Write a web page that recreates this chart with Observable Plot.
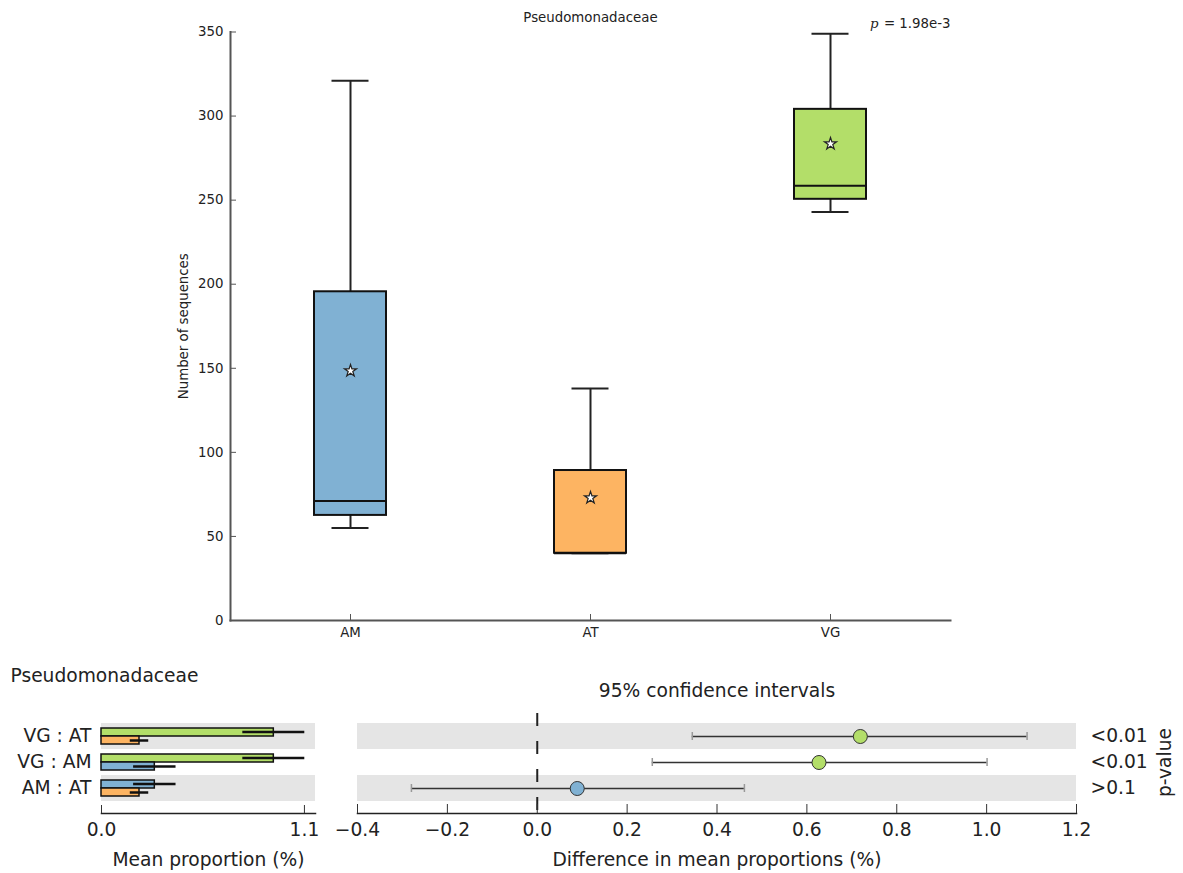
<!DOCTYPE html>
<html>
<head>
<meta charset="utf-8">
<script src="https://cdn.jsdelivr.net/npm/d3@7"></script>
<script src="https://cdn.jsdelivr.net/npm/@observablehq/plot@0.6"></script>
<style>
  body { margin: 0; background: #fff; }
  #chart { position: relative; width: 1183px; height: 873px; font-family: "DejaVu Sans", sans-serif; }
  #chart svg { position: absolute; }
</style>
</head>
<body>
<div id="chart"></div>
<script>
// ---------- data ----------
const featureName = "Pseudomonadaceae";
const pValueText = "= 1.98e-3";

const groups = ["AM", "AT", "VG"];
const whiskerLow  = [55, 40, 243];
const quartile1   = [62.5, 40, 250.5];
const medians     = [71, 40, 258.5];
const quartile3   = [195.5, 89.2, 304];
const whiskerHigh = [321, 138, 349];
const means       = [148.5, 73, 283.5];
const yTicks = [0, 50, 100, 150, 200, 250, 300, 350];

const meanProportion  = [0.289, 0.206, 0.934];   // AM, AT, VG (%)
const proportionError = [0.115, 0.050, 0.168];

const comparisons = ["VG : AT", "VG : AM", "AM : AT"];
const compGroup1 = ["VG", "VG", "AM"];
const compGroup2 = ["AT", "AM", "AT"];
const diffMean = [0.719, 0.627, 0.089];
const ciLow    = [0.345, 0.256, -0.280];
const ciHigh   = [1.090, 1.001, 0.461];
const pLabels  = ["<0.01", "<0.01", ">0.1"];
const propTicks = [0, 1.1];
const propDomain = [0, 1.16];
const diffTicks = [-0.4, -0.2, 0, 0.2, 0.4, 0.6, 0.8, 1.0, 1.2];
const diffDomain = [-0.4, 1.2];

// ---------- styles ----------
const palette = ["#80b1d3", "#fdb462", "#b3de69"];
const shade = "#e5e5e5";
const small = 13.33, big = 18.67;

// ---------- derived tables ----------
const idx = g => groups.indexOf(g);
const boxData = groups.map((g, i) => ({
  group: g, low: whiskerLow[i], q1: quartile1[i], median: medians[i],
  q3: quartile3[i], high: whiskerHigh[i], mean: means[i]
}));
const compData = comparisons.map((c, i) => {
  const g1 = compGroup1[i], g2 = compGroup2[i];
  const m1 = meanProportion[idx(g1)], m2 = meanProportion[idx(g2)];
  return {
    comparison: c, g1, g2, m1, m2,
    e1: proportionError[idx(g1)], e2: proportionError[idx(g2)],
    diff: diffMean[i], lo: ciLow[i], hi: ciHigh[i], p: pLabels[i],
    dotGroup: m1 >= m2 ? g1 : g2
  };
});
const shadedRows = comparisons.filter((_, i) => i % 2 === 0);

const chart = document.getElementById("chart");
const baseStyle = size => ({fontFamily: "DejaVu Sans, sans-serif", fontSize: size + "px", color: "#222", background: "transparent"});
const place = (svg, left, top) => { svg.style.left = left + "px"; svg.style.top = top + "px"; chart.appendChild(svg); };
const mid = {lineAnchor: "middle"};

// ---------- top: box plot ----------
const topPlot = Plot.plot({
  width: 1183, height: 650,
  marginLeft: 230, marginRight: 233, marginTop: 31.5, marginBottom: 30,
  style: baseStyle(small),
  x: {domain: groups, padding: 0, axis: null},
  y: {domain: [0, 350], axis: null},
  color: {domain: groups, range: palette},
  marks: [
    Plot.ruleX(boxData, {x: "group", y1: "low", y2: "q1", stroke: "#222", strokeWidth: 2}),
    Plot.ruleX(boxData, {x: "group", y1: "q3", y2: "high", stroke: "#222", strokeWidth: 2}),
    Plot.tickY(boxData, {x: "group", y: "low", insetLeft: 101.5, insetRight: 101.5, stroke: "#222", strokeWidth: 2}),
    Plot.tickY(boxData, {x: "group", y: "high", insetLeft: 101.5, insetRight: 101.5, stroke: "#222", strokeWidth: 2}),
    Plot.barY(boxData, {x: "group", y1: "q1", y2: "q3", fill: "group", stroke: "#111", strokeWidth: 2, insetLeft: 84, insetRight: 84}),
    Plot.tickY(boxData, {x: "group", y: "median", insetLeft: 84, insetRight: 84, stroke: "#111", strokeWidth: 2}),
    Plot.dot(boxData, {x: "group", y: "mean", symbol: "star", r: 3.8, fill: "white", stroke: "#222", strokeWidth: 1.2}),
    Plot.frame({anchor: "left", stroke: "#555", strokeWidth: 2}),
    Plot.frame({anchor: "bottom", stroke: "#555", strokeWidth: 2}),
    Plot.axisY({ticks: yTicks, tickSize: 6, dx: 6, tickFormat: () => "", stroke: "#555", label: null}),
    Plot.axisY({ticks: yTicks, tickSize: 0, tickPadding: 7, label: null}),
    Plot.axisX({ticks: groups, tickSize: 6, dy: -6, tickFormat: () => "", stroke: "#555", label: null}),
    Plot.axisX({ticks: groups, tickSize: 0, tickPadding: 7, label: null}),
    Plot.text([featureName], {frameAnchor: "top", dy: -14.5, ...mid}),
    Plot.text([pValueText], {frameAnchor: "top-right", dy: -8.5, textAnchor: "end", ...mid}),
    Plot.text(["p"], {frameAnchor: "top-right", dx: -72, dy: -8.5, textAnchor: "end", fontStyle: "italic", fontFamily: "DejaVu Serif, serif", ...mid}),
    Plot.text(["Number of sequences"], {frameAnchor: "left", dx: -47, rotate: -90, textAnchor: "middle", ...mid})
  ]
});
place(topPlot, 0, 0);

// ---------- bottom-left: mean proportions ----------
const leftPlot = Plot.plot({
  width: 340, height: 213,
  marginLeft: 101, marginRight: 25, marginTop: 63, marginBottom: 60,
  style: baseStyle(big),
  x: {domain: propDomain, axis: null},
  y: {domain: comparisons, padding: 0, insetBottom: 12, axis: null},
  color: {domain: groups, range: palette},
  marks: [
    Plot.cell(shadedRows, {y: d => d, fill: shade}),
    Plot.barX(compData, {y: "comparison", x: "m1", fill: "g1", stroke: "#111", strokeWidth: 1.5, insetTop: 5, insetBottom: 13}),
    Plot.barX(compData, {y: "comparison", x: "m2", fill: "g2", stroke: "#111", strokeWidth: 1.5, insetTop: 13, insetBottom: 5}),
    Plot.ruleY(compData, {y: "comparison", x1: d => d.m1 - d.e1, x2: d => d.m1 + d.e1, dy: -4.5, stroke: "#111", strokeWidth: 2.5}),
    Plot.ruleY(compData, {y: "comparison", x1: d => d.m2 - d.e2, x2: d => d.m2 + d.e2, dy: 4, stroke: "#111", strokeWidth: 2.5}),
    Plot.frame({anchor: "bottom", stroke: "#222", strokeWidth: 1.5}),
    Plot.axisX({ticks: propTicks, tickSize: 8, dy: -8, tickFormat: () => "", stroke: "#333", label: null}),
    Plot.axisX({ticks: propTicks, tickSize: 0, tickPadding: 9, tickFormat: d3.format(".1f"), label: null}),
    Plot.axisY({tickSize: 0, tickPadding: 10, label: null}),
    Plot.text(["Mean proportion (%)"], {frameAnchor: "bottom", dy: 47, ...mid}),
    Plot.text([featureName], {frameAnchor: "top-left", dx: -91, dy: -47, textAnchor: "start", ...mid})
  ]
});
place(leftPlot, 0, 660);

// ---------- bottom-right: confidence intervals ----------
const rightPlot = Plot.plot({
  width: 873, height: 213,
  marginLeft: 47, marginRight: 107, marginTop: 63, marginBottom: 60,
  style: baseStyle(big),
  x: {domain: diffDomain, axis: null},
  y: {domain: comparisons, padding: 0, insetBottom: 12, axis: null},
  color: {domain: groups, range: palette},
  marks: [
    Plot.cell(shadedRows, {y: d => d, fill: shade}),
    Plot.ruleX([0], {stroke: "#222", strokeWidth: 2, strokeDasharray: "13,15", insetTop: -10}),
    Plot.frame({anchor: "bottom", stroke: "#222", strokeWidth: 1.5}),
    Plot.axisX({ticks: diffTicks, tickSize: 9, dy: -9, tickFormat: () => "", stroke: "#333", label: null}),
    Plot.axisX({ticks: diffTicks, tickSize: 0, tickPadding: 9, tickFormat: d3.format(".1f"), label: null}),
    Plot.ruleY(compData, {y: "comparison", x1: "lo", x2: "hi", stroke: "#333", strokeWidth: 1.5}),
    Plot.tickX(compData, {x: "lo", y: "comparison", insetTop: 9, insetBottom: 9, stroke: "#999", strokeWidth: 1.5}),
    Plot.tickX(compData, {x: "hi", y: "comparison", insetTop: 9, insetBottom: 9, stroke: "#999", strokeWidth: 1.5}),
    Plot.dot(compData, {x: "diff", y: "comparison", r: 7, fill: "dotGroup", stroke: "#333", strokeWidth: 1}),
    Plot.text(compData, {y: "comparison", text: "p", frameAnchor: "right", dx: 14, textAnchor: "start", ...mid}),
    Plot.text(["p-value"], {frameAnchor: "right", dx: 89, dy: -6, rotate: -90, textAnchor: "middle", ...mid}),
    Plot.text(["95% confidence intervals"], {frameAnchor: "top", dy: -32, ...mid}),
    Plot.text(["Difference in mean proportions (%)"], {frameAnchor: "bottom", dy: 47, ...mid})
  ]
});
place(rightPlot, 310, 660);
</script>
</body>
</html>
